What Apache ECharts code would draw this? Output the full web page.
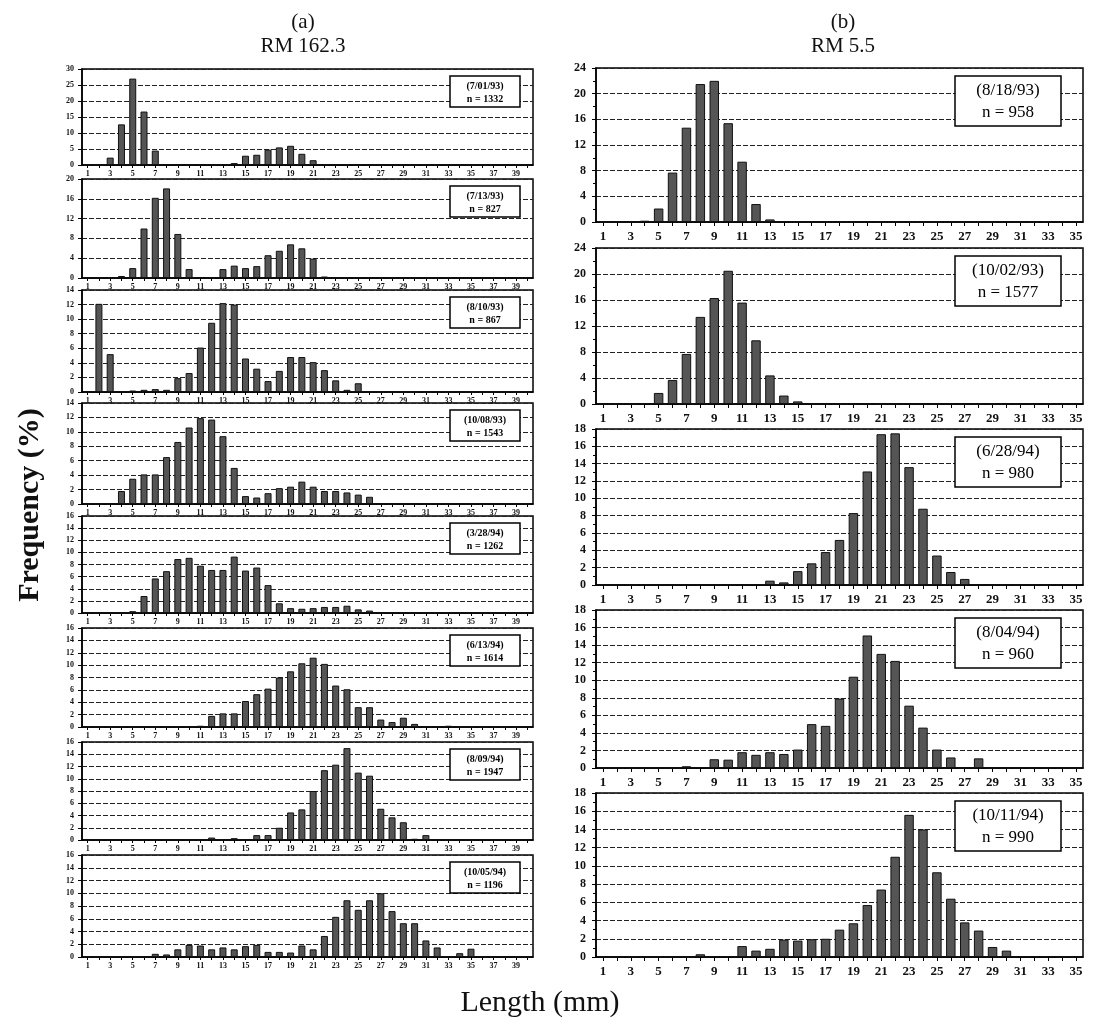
<!DOCTYPE html>
<html><head><meta charset="utf-8">
<script src="https://cdn.jsdelivr.net/npm/echarts@6.0.0/dist/echarts.min.js"></script>
<style>html,body{margin:0;padding:0;background:#fff}#c{width:1107px;height:1027px}</style>
</head><body><div id="c"></div><script>
// ---------- categories (length classes, mm) ----------
const leftCategories = ["1","2","3","4","5","6","7","8","9","10","11","12","13","14","15","16","17","18","19","20","21","22","23","24","25","26","27","28","29","30","31","32","33","34","35","36","37","38","39","40"];
const rightCategories = ["1","2","3","4","5","6","7","8","9","10","11","12","13","14","15","16","17","18","19","20","21","22","23","24","25","26","27","28","29","30","31","32","33","34","35"];

// ---------- panel labels ----------
const columnTitlesA = ["(a)", "RM 162.3"];
const columnTitlesB = ["(b)", "RM 5.5"];
const leftDates = ["(7/01/93)","(7/13/93)","(8/10/93)","(10/08/93)","(3/28/94)","(6/13/94)","(8/09/94)","(10/05/94)"];
const leftCounts = ["n = 1332","n = 827","n = 867","n = 1543","n = 1262","n = 1614","n = 1947","n = 1196"];
const rightDates = ["(8/18/93)","(10/02/93)","(6/28/94)","(8/04/94)","(10/11/94)"];
const rightCounts = ["n = 958","n = 1577","n = 980","n = 960","n = 990"];
const yAxisTitle = "Frequency (%)";
const xAxisTitle = "Length (mm)";

// ---------- y-axis tick ranges ----------
const leftYMax = [30,20,14,14,16,16,16,16];
const leftYStep = [5,4,2,2,2,2,2,2];
const rightYMax = [24,24,18,18,18];
const rightYStep = [4,4,2,2,2];

// ---------- frequencies (%) RM 162.3 ----------
const freq_7_01_93  = [0,0,2.3,12.7,27,16.7,4.5,0.2,0.1,0, 0.1,0.2,0.3,0.6,2.9,3.2,4.8,5.5,6.0,3.5, 1.5,0.2,0,0,0,0,0,0,0,0, 0,0,0,0,0,0,0,0,0,0];
const freq_7_13_93  = [0,0,0,0.4,2.0,10.0,16.2,18.1,8.9,1.8, 0.1,0.1,1.8,2.5,2.0,2.4,4.6,5.5,6.8,6.0, 3.9,0.3,0,0,0,0,0,0,0,0, 0,0,0,0,0,0,0,0,0,0];
const freq_8_10_93  = [0,12.1,5.2,0.1,0.2,0.3,0.4,0.3,1.9,2.6, 6.1,9.5,12.2,12.0,4.6,3.2,1.5,2.9,4.8,4.8, 4.1,3.0,1.6,0.3,1.2,0,0,0,0,0, 0,0,0,0,0,0,0,0,0,0];
const freq_10_08_93 = [0,0,0,1.8,3.5,4.1,4.1,6.5,8.6,10.6, 11.9,11.7,9.4,5.0,1.1,0.9,1.5,2.2,2.4,3.1, 2.4,1.8,1.8,1.6,1.3,1.0,0,0,0,0, 0,0,0,0,0,0,0,0,0,0];
const freq_3_28_94  = [0,0,0,0,0.3,2.8,5.7,6.9,8.9,9.1, 7.8,7.1,7.1,9.3,7.0,7.5,4.6,1.6,0.8,0.7, 0.8,1.0,1.0,1.2,0.6,0.4,0,0,0,0, 0,0,0,0,0,0,0,0,0,0];
const freq_6_13_94  = [0,0,0,0,0,0,0,0,0,0.1, 0.2,1.8,2.2,2.2,4.2,5.3,6.2,8.0,9.0,10.3, 11.2,10.2,6.7,6.1,3.2,3.2,1.2,0.8,1.5,0.5, 0.1,0,0.2,0,0,0,0,0,0,0];
const freq_8_09_94  = [0,0,0,0,0,0,0,0,0,0, 0,0.4,0,0.3,0,0.8,0.8,2.0,4.5,5.0, 8.0,11.4,12.3,15.0,11.0,10.5,5.1,3.7,2.9,0.2, 0.8,0,0,0,0,0,0,0,0,0];
const freq_10_05_94 = [0,0,0,0,0,0,0.5,0.4,1.2,1.9, 1.8,1.2,1.5,1.2,1.7,1.9,0.8,0.8,0.7,1.8, 1.2,3.3,6.3,8.9,7.4,8.9,10.0,7.2,5.3,5.3, 2.6,1.5,0,0.6,1.3,0,0,0,0,0];

// ---------- frequencies (%) RM 5.5 ----------
const freq_8_18_93  = [0,0,0,0.2,2.1,7.7,14.7,21.5,22.0,15.4, 9.4,2.8,0.4,0.1,0,0,0,0,0,0, 0,0,0,0,0,0,0,0,0,0, 0,0,0,0,0];
const freq_10_02_93 = [0,0,0,0.1,1.7,3.7,7.7,13.4,16.3,20.5, 15.6,9.8,4.4,1.3,0.4,0,0,0,0,0, 0,0,0,0,0,0,0,0,0,0, 0,0,0,0,0];
const freq_6_28_94  = [0,0,0,0,0,0,0,0,0,0, 0,0.1,0.5,0.3,1.6,2.5,3.8,5.2,8.3,13.1, 17.4,17.5,13.6,8.8,3.4,1.5,0.7,0,0,0, 0,0,0,0,0];
const freq_8_04_94  = [0,0,0,0,0,0,0.2,0.1,1.0,0.95, 1.8,1.5,1.8,1.6,2.1,5.0,4.8,7.9,10.4,15.1, 13.0,12.2,7.1,4.6,2.1,1.2,0,1.1,0,0, 0,0,0,0,0];
const freq_10_11_94 = [0,0,0,0,0,0,0,0.3,0.1,0.1, 1.2,0.7,0.9,1.9,1.8,1.95,2.0,3.0,3.7,5.7, 7.4,11.0,15.6,14.0,9.3,6.4,3.8,2.9,1.1,0.7, 0.1,0.1,0.1,0,0];

const leftSeries = [freq_7_01_93,freq_7_13_93,freq_8_10_93,freq_10_08_93,freq_3_28_94,freq_6_13_94,freq_8_09_94,freq_10_05_94];
const rightSeries = [freq_8_18_93,freq_10_02_93,freq_6_28_94,freq_8_04_94,freq_10_11_94];

// ---------- layout ----------
const leftTops    = [69,179,290,403,516,628,742,855];
const leftBottoms = [165,278,392,504,613,727,840,957];
const rightTops    = [68,248,429,610,793];
const rightBottoms = [222,404,585,768,957];
const LX = 82, LW = 451;
const RX = 596, RW = 487;
const SERIF = '"Liberation Serif","DejaVu Serif",serif';

const grids = [], xAxes = [], yAxes = [], series = [], graphics = [];

function addPanel(x, w, top, bottom, cats, data, ymax, ystep, small, date, count) {
  const i = grids.length;
  grids.push({left:x, top:top, width:w, height:bottom-top, show:true, borderColor:'#000', borderWidth:1.5, backgroundColor:'transparent'});
  xAxes.push({
    type:'category', gridIndex:i, data:cats, boundaryGap:true,
    axisLine:{show:true, lineStyle:{color:'#000', width:1.5}},
    axisTick:{show:true, alignWithLabel:true, interval:0, length: small?3:4, lineStyle:{color:'#000'}},
    axisLabel:{interval:1, margin: small?5:8, color:'#111', fontFamily:SERIF, fontWeight:'bold', fontSize: small?8:13},
    splitLine:{show:false}
  });
  yAxes.push({
    type:'value', gridIndex:i, min:0, max:ymax, interval:ystep,
    axisLine:{show:true, lineStyle:{color:'#000', width:1.5}},
    axisTick:{show:true, length:4, lineStyle:{color:'#000'}},
    minorTick: small ? {show:false} : {show:true, splitNumber:2, length:3, lineStyle:{color:'#000'}},
    axisLabel:{margin: small?8:10, color:'#111', fontFamily:SERIF, fontWeight:'bold', fontSize: small?8:12},
    splitLine:{show:true, lineStyle:{color:'#222', width:1, type:[5,2]}}
  });
  series.push({
    type:'bar', xAxisIndex:i, yAxisIndex:i, data:data,
    barWidth: small ? '62%' : '68%',
    itemStyle:{color:'#555', borderColor:'#111', borderWidth:1},
    silent:true
  });
  // label box
  let bw, bh, bx, by, fs, l1, l2;
  if (small) { bw = 70; bh = 31; bx = x + w - 13 - bw; by = top + 7; fs = 10; l1 = 10; l2 = 23; }
  else { bw = 106; bh = 50; bx = 955; by = top + 8; fs = 17; l1 = 15; l2 = 37; }
  graphics.push({type:'rect', z:100, shape:{x:bx, y:by, width:bw, height:bh}, style:{fill:'#fff', stroke:'#000', lineWidth:1.5}});
  graphics.push({type:'text', z:101, x:bx+bw/2, y:by+l1, style:{text:date, font:(small?'bold ':'')+fs+'px '+SERIF, fill:'#000', textAlign:'center', textVerticalAlign:'middle'}});
  graphics.push({type:'text', z:101, x:bx+bw/2, y:by+l2, style:{text:count, font:(small?'bold ':'')+fs+'px '+SERIF, fill:'#000', textAlign:'center', textVerticalAlign:'middle'}});
}

for (let k = 0; k < leftSeries.length; k++) {
  addPanel(LX, LW, leftTops[k], leftBottoms[k], leftCategories, leftSeries[k], leftYMax[k], leftYStep[k], true, leftDates[k], leftCounts[k]);
}
for (let k = 0; k < rightSeries.length; k++) {
  addPanel(RX, RW, rightTops[k], rightBottoms[k], rightCategories, rightSeries[k], rightYMax[k], rightYStep[k], false, rightDates[k], rightCounts[k]);
}

// column titles and axis titles
function addText(txt, x, y, size, weight, rot) {
  graphics.push({type:'text', z:101, x:x, y:y, rotation: rot||0, style:{text:txt, font:(weight||'normal')+' '+size+'px '+SERIF, fill:'#111', textAlign:'center', textVerticalAlign:'middle'}});
}
addText(columnTitlesA[0], 303, 22, 21);
addText(columnTitlesA[1], 303, 46, 21);
addText(columnTitlesB[0], 843, 22, 21);
addText(columnTitlesB[1], 843, 46, 21);
addText(yAxisTitle, 30, 505, 30, 'bold', Math.PI/2);
addText(xAxisTitle, 540, 1003, 30);

const chart = echarts.init(document.getElementById('c'), null, {renderer:'canvas'});
chart.setOption({
  animation:false,
  backgroundColor:'#fff',
  grid:grids, xAxis:xAxes, yAxis:yAxes, series:series,
  graphic:{elements:graphics}
});
</script></body></html>
